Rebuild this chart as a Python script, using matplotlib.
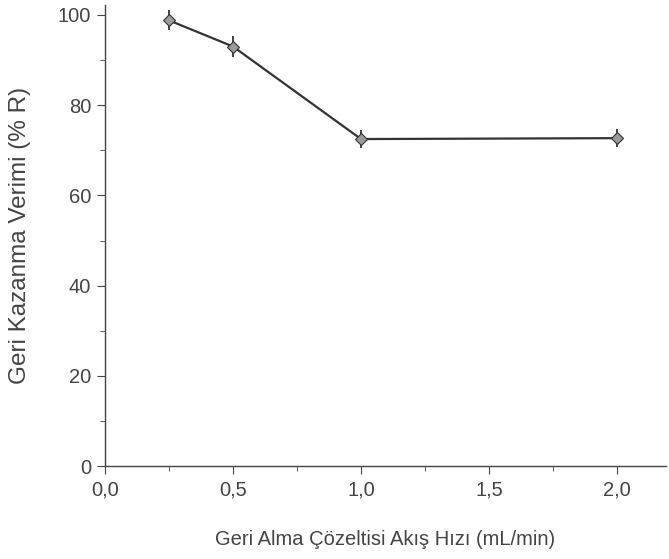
import numpy as np
import matplotlib
matplotlib.use("Agg")
import matplotlib.pyplot as plt
from matplotlib.ticker import MultipleLocator, FuncFormatter

plt.rcParams['font.family'] = ['Liberation Sans', 'DejaVu Sans']

# data
flow_rate = [0.25, 0.5, 1.0, 2.0]
recovery = [98.8, 93.0, 72.5, 72.7]
recovery_err = [2.2, 2.4, 2.0, 2.0]

fig = plt.figure(figsize=(6.69, 5.59), dpi=100)
ax = fig.add_axes([0.157, 0.166, 0.838, 0.825])

ax.errorbar(flow_rate, recovery, yerr=recovery_err, color='#333333', lw=1.6,
            marker='D', ms=6.5, mfc='#9a9a9a', mec='#333333', mew=0.8,
            elinewidth=1.3, capsize=0)

ax.set_xlim(0, 2.19)
ax.set_ylim(0, 102.2)
ax.xaxis.set_major_locator(MultipleLocator(0.5))
ax.xaxis.set_minor_locator(MultipleLocator(0.25))
ax.yaxis.set_major_locator(MultipleLocator(20))
ax.yaxis.set_minor_locator(MultipleLocator(10))
ax.xaxis.set_major_formatter(FuncFormatter(lambda v, p: f"{v:.1f}".replace('.', ',')))

for s in ['top', 'right']:
    ax.spines[s].set_visible(False)
for s in ['left', 'bottom']:
    ax.spines[s].set_color('#444444')
    ax.spines[s].set_linewidth(1.0)

ax.tick_params(which='both', direction='out', colors='#444444', labelcolor='#444444',
               labelsize=14.5)
ax.tick_params(which='major', length=6, pad=4)
ax.tick_params(which='minor', length=3.5)

ax.set_xlabel('Geri Alma Çözeltisi Akış Hızı (mL/min)', fontsize=14.5, color='#444444',
              labelpad=22)
ax.set_ylabel('Geri Kazanma Verimi (% R)', fontsize=17.5, color='#444444', labelpad=19)

fig.savefig('out.png', dpi=100)
